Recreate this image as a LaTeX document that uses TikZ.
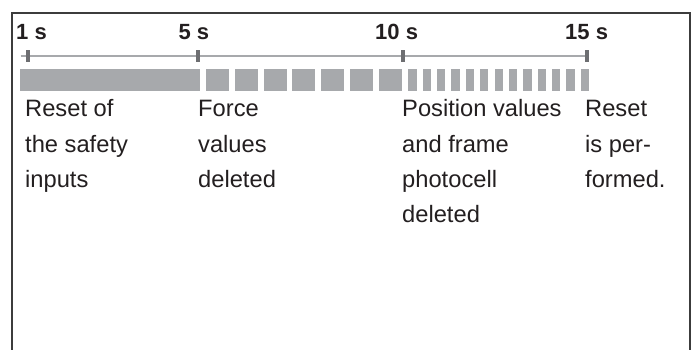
\documentclass[tikz,border=0pt]{standalone}
\usepackage{fontspec}
\setmainfont{Liberation Sans}
\usetikzlibrary{calc}

\definecolor{bargrey}{HTML}{A7A9AC}
\definecolor{tickgrey}{HTML}{6D6E71}
\definecolor{framegrey}{HTML}{3C3C3C}
\definecolor{textgrey}{HTML}{231F20}

\tikzset{
    timelabel/.style={anchor=base west, inner sep=0pt, text=textgrey,
        font=\fontsize{22}{26}\selectfont\bfseries},
    steplabel/.style={anchor=base west, inner sep=0pt, align=left, text=textgrey,
        font=\fontsize{23.7}{35.3}\selectfont},
    tickmark/.style={draw=tickgrey, line width=4pt},
    barblock/.style={fill=bargrey},
}

\begin{document}
\begin{tikzpicture}[x=1pt, y=-1pt]
        \useasboundingbox (0,0) rectangle (697,350);
        \draw [framegrey, line width=1.3pt] (12,350) -- (12,13) -- (690,13) -- (690,350);

        \coordinate (axisstart) at (20.5, 56);
        \coordinate (t1) at (28, 56);
        \coordinate (t5) at (198, 56);
        \coordinate (t10) at (403, 56);
        \coordinate (t15) at (587, 56);

        \draw [bargrey, line width=1.6pt] (axisstart) to (t15);
        \draw [tickmark] ($(t1) + (0,-5.8)$) to ($(t1) + (0,5.8)$);
        \draw [tickmark] ($(t5) + (0,-5.8)$) to ($(t5) + (0,5.8)$);
        \draw [tickmark] ($(t10) + (0,-5.8)$) to ($(t10) + (0,5.8)$);
        \draw [tickmark] ($(t15) + (0,-5.8)$) to ($(t15) + (0,5.8)$);

        \node[timelabel] (s1) at (16, 39.3) {1 s};
        \node[timelabel] (s5) at (178.3, 39.3) {5 s};
        \node[timelabel] (s10) at (375, 39.3) {10 s};
        \node[timelabel] (s15) at (565, 39.3) {15 s};

        \fill [barblock] (20,69) rectangle (200,91.5);
        \foreach \i in {0,...,6}
            \fill [barblock] ({206 + 28.8*\i}, 69) rectangle ++(23, 22.5);
        \foreach \i in {0,...,12}
            \fill [barblock] ({408.3 + 14.37*\i}, 69) rectangle ++(8.3, 22.5);

        \node[steplabel] (reset) at (25, 187.3) {Reset of\\the safety\\inputs};
        \node[steplabel] (force) at (198, 187.3) {Force\\values\\deleted};
        \node[steplabel] (position) at (402, 222.6) {Position values\\and frame\\photocell\\deleted};
        \node[steplabel] (performed) at (585, 187.3) {Reset\\is per-\\formed.};
    \end{tikzpicture}
\end{document}
